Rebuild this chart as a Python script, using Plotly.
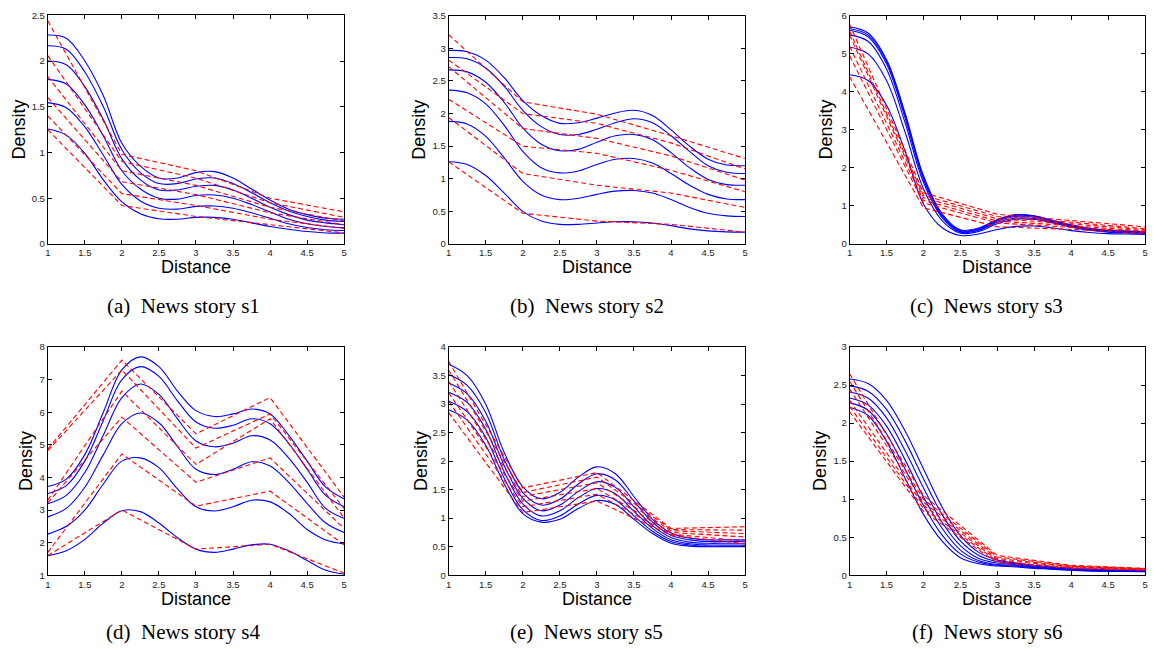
import plotly.graph_objects as go

# ---------------- data ----------------
X_SMOOTH = [1.0, 1.25, 1.5, 1.75, 2.0, 2.25, 2.5, 2.75, 3.0, 3.25, 3.5, 3.75, 4.0, 4.25, 4.5, 4.75, 5.0]
X_KNOTS = [1, 2, 3, 4, 5]

# (a) News story s1
S1_FIT = [
    [2.285, 2.25, 2.00, 1.62, 1.10, 0.85, 0.72, 0.72, 0.78, 0.79, 0.72, 0.60, 0.48, 0.38, 0.32, 0.28, 0.27],
    [2.167, 2.13, 1.88, 1.50, 1.03, 0.78, 0.66, 0.66, 0.71, 0.72, 0.66, 0.56, 0.45, 0.36, 0.30, 0.26, 0.245],
    [2.00, 1.96, 1.72, 1.36, 0.93, 0.70, 0.59, 0.59, 0.63, 0.64, 0.59, 0.50, 0.40, 0.32, 0.26, 0.23, 0.21],
    [1.80, 1.75, 1.52, 1.18, 0.80, 0.60, 0.50, 0.49, 0.53, 0.535, 0.50, 0.43, 0.35, 0.27, 0.22, 0.19, 0.175],
    [1.545, 1.49, 1.28, 0.97, 0.65, 0.47, 0.39, 0.38, 0.41, 0.415, 0.39, 0.34, 0.28, 0.22, 0.18, 0.155, 0.147],
    [1.257, 1.19, 0.99, 0.70, 0.46, 0.33, 0.275, 0.27, 0.29, 0.29, 0.27, 0.23, 0.19, 0.16, 0.135, 0.12, 0.118],
]
S1_EMP = [
    [2.44, 0.98, 0.80, 0.50, 0.35],
    [2.06, 0.90, 0.72, 0.45, 0.29],
    [1.83, 0.80, 0.64, 0.40, 0.25],
    [1.60, 0.68, 0.54, 0.34, 0.21],
    [1.40, 0.55, 0.42, 0.27, 0.17],
    [1.25, 0.42, 0.30, 0.21, 0.12],
]

# (b) News story s2
S2_FIT = [
    [2.97, 2.95, 2.82, 2.55, 2.20, 1.97, 1.85, 1.86, 1.93, 2.01, 2.05, 1.97, 1.75, 1.50, 1.30, 1.21, 1.20],
    [2.86, 2.84, 2.70, 2.42, 2.05, 1.80, 1.68, 1.68, 1.76, 1.86, 1.92, 1.86, 1.66, 1.42, 1.20, 1.10, 1.08],
    [2.67, 2.64, 2.48, 2.17, 1.78, 1.53, 1.43, 1.45, 1.56, 1.66, 1.68, 1.60, 1.40, 1.17, 0.99, 0.91, 0.90],
    [2.36, 2.32, 2.15, 1.82, 1.42, 1.17, 1.09, 1.12, 1.22, 1.30, 1.31, 1.24, 1.08, 0.90, 0.76, 0.69, 0.68],
    [1.88, 1.84, 1.65, 1.32, 0.96, 0.75, 0.68, 0.70, 0.76, 0.81, 0.82, 0.78, 0.68, 0.56, 0.47, 0.43, 0.42],
    [1.26, 1.22, 1.05, 0.78, 0.50, 0.35, 0.30, 0.30, 0.32, 0.34, 0.34, 0.32, 0.28, 0.23, 0.20, 0.185, 0.18],
]
S2_EMP = [
    [3.21, 2.18, 1.99, 1.66, 1.31],
    [2.82, 2.00, 1.85, 1.55, 1.15],
    [2.72, 1.77, 1.62, 1.35, 0.98],
    [2.22, 1.50, 1.39, 1.13, 0.80],
    [1.94, 1.08, 0.90, 0.78, 0.56],
    [1.26, 0.47, 0.35, 0.30, 0.18],
]

# (c) News story s3
S3_FIT = [
    [5.71, 5.55, 4.85, 3.45, 1.80, 0.80, 0.37, 0.42, 0.64, 0.77, 0.74, 0.62, 0.50, 0.41, 0.36, 0.34, 0.33],
    [5.66, 5.50, 4.80, 3.40, 1.75, 0.77, 0.35, 0.40, 0.62, 0.75, 0.73, 0.61, 0.49, 0.40, 0.35, 0.33, 0.32],
    [5.62, 5.45, 4.74, 3.33, 1.70, 0.74, 0.33, 0.38, 0.60, 0.72, 0.70, 0.59, 0.47, 0.39, 0.34, 0.32, 0.31],
    [5.50, 5.33, 4.60, 3.20, 1.62, 0.70, 0.31, 0.36, 0.57, 0.68, 0.67, 0.57, 0.45, 0.37, 0.32, 0.30, 0.29],
    [5.18, 5.00, 4.30, 2.95, 1.45, 0.62, 0.28, 0.33, 0.53, 0.65, 0.64, 0.55, 0.44, 0.36, 0.31, 0.29, 0.28],
    [4.45, 4.30, 3.65, 2.45, 1.05, 0.43, 0.22, 0.26, 0.38, 0.46, 0.47, 0.42, 0.35, 0.30, 0.27, 0.26, 0.25],
]
S3_EMP = [
    [5.78, 1.35, 0.78, 0.62, 0.45],
    [5.60, 1.28, 0.72, 0.57, 0.40],
    [5.50, 1.22, 0.66, 0.53, 0.37],
    [5.20, 1.15, 0.60, 0.48, 0.34],
    [4.95, 1.08, 0.55, 0.44, 0.32],
    [4.40, 0.95, 0.45, 0.38, 0.28],
]

# (d) News story s4
S4_FIT = [
    [3.72, 3.95, 4.70, 6.00, 7.30, 7.70, 7.40, 6.65, 6.05, 5.87, 5.95, 6.10, 5.95, 5.30, 4.50, 3.70, 3.34],
    [3.51, 3.75, 4.50, 5.75, 7.00, 7.40, 7.10, 6.35, 5.70, 5.51, 5.60, 5.80, 5.65, 5.05, 4.25, 3.45, 3.10],
    [3.19, 3.45, 4.15, 5.30, 6.45, 6.87, 6.55, 5.80, 5.12, 4.94, 5.05, 5.28, 5.15, 4.60, 3.85, 3.05, 2.74],
    [2.79, 3.05, 3.70, 4.70, 5.65, 5.98, 5.68, 4.95, 4.25, 4.09, 4.25, 4.48, 4.35, 3.85, 3.20, 2.60, 2.31],
    [2.26, 2.50, 3.00, 3.80, 4.50, 4.60, 4.30, 3.65, 3.10, 2.97, 3.10, 3.30, 3.25, 2.90, 2.40, 2.08, 1.96],
    [1.60, 1.75, 2.10, 2.60, 2.98, 2.95, 2.60, 2.15, 1.80, 1.70, 1.80, 1.93, 1.95, 1.75, 1.45, 1.15, 1.03],
]
S4_EMP = [
    [4.87, 7.60, 5.34, 6.45, 3.39],
    [4.82, 7.30, 4.90, 5.95, 3.04],
    [3.30, 6.65, 4.40, 5.80, 2.75],
    [3.22, 5.85, 3.85, 4.60, 2.43],
    [1.70, 4.72, 3.12, 3.58, 1.93],
    [1.60, 3.00, 1.80, 1.95, 1.06],
]

# (e) News story s5
S5_FIT = [
    [3.70, 3.50, 3.00, 2.15, 1.55, 1.34, 1.45, 1.72, 1.90, 1.78, 1.38, 0.98, 0.74, 0.65, 0.62, 0.62, 0.62],
    [3.52, 3.33, 2.85, 2.03, 1.45, 1.23, 1.33, 1.60, 1.78, 1.67, 1.30, 0.93, 0.70, 0.62, 0.59, 0.59, 0.59],
    [3.37, 3.18, 2.70, 1.92, 1.35, 1.13, 1.23, 1.47, 1.64, 1.54, 1.20, 0.87, 0.66, 0.58, 0.56, 0.56, 0.56],
    [3.21, 3.03, 2.56, 1.81, 1.25, 1.04, 1.13, 1.36, 1.52, 1.43, 1.12, 0.82, 0.62, 0.55, 0.53, 0.53, 0.53],
    [3.05, 2.87, 2.42, 1.70, 1.15, 0.96, 1.04, 1.25, 1.40, 1.32, 1.04, 0.77, 0.59, 0.53, 0.51, 0.51, 0.51],
    [2.90, 2.72, 2.28, 1.60, 1.08, 0.93, 0.98, 1.17, 1.31, 1.24, 0.98, 0.73, 0.56, 0.51, 0.50, 0.50, 0.50],
]
S5_EMP = [
    [3.75, 1.53, 1.80, 0.82, 0.85],
    [3.60, 1.45, 1.72, 0.80, 0.79],
    [3.40, 1.38, 1.62, 0.78, 0.73],
    [3.20, 1.30, 1.52, 0.75, 0.67],
    [3.05, 1.20, 1.42, 0.72, 0.60],
    [2.85, 1.10, 1.30, 0.70, 0.55],
]

# (f) News story s6
S6_FIT = [
    [2.58, 2.52, 2.30, 1.90, 1.40, 0.90, 0.52, 0.30, 0.20, 0.16, 0.13, 0.11, 0.09, 0.08, 0.07, 0.065, 0.06],
    [2.49, 2.42, 2.18, 1.77, 1.27, 0.80, 0.45, 0.26, 0.18, 0.15, 0.12, 0.10, 0.08, 0.07, 0.065, 0.06, 0.055],
    [2.41, 2.33, 2.07, 1.64, 1.15, 0.70, 0.39, 0.22, 0.16, 0.14, 0.11, 0.09, 0.075, 0.065, 0.06, 0.055, 0.05],
    [2.33, 2.24, 1.96, 1.52, 1.03, 0.62, 0.33, 0.19, 0.14, 0.13, 0.10, 0.085, 0.07, 0.06, 0.055, 0.05, 0.05],
    [2.27, 2.17, 1.86, 1.40, 0.92, 0.53, 0.28, 0.17, 0.13, 0.12, 0.10, 0.08, 0.07, 0.06, 0.055, 0.05, 0.05],
    [2.21, 2.10, 1.76, 1.28, 0.80, 0.45, 0.23, 0.15, 0.12, 0.11, 0.09, 0.08, 0.065, 0.055, 0.05, 0.05, 0.045],
]
S6_EMP = [
    [2.65, 1.05, 0.26, 0.13, 0.09],
    [2.55, 1.00, 0.24, 0.12, 0.085],
    [2.45, 0.96, 0.22, 0.115, 0.08],
    [2.30, 0.92, 0.20, 0.11, 0.075],
    [2.22, 0.88, 0.18, 0.10, 0.07],
    [2.15, 0.84, 0.16, 0.09, 0.065],
]

CAPTIONS = ["(a) News story s1", "(b) News story s2", "(c) News story s3",
            "(d) News story s4", "(e) News story s5", "(f) News story s6"]
Y_RANGES = [[0, 2.5], [0, 3.5], [0, 6], [1, 8], [0, 4], [0, 3]]
Y_DTICKS = [0.5, 0.5, 1, 1, 0.5, 0.5]
X_TITLE = "Distance"
Y_TITLE = "Density"

FITS = [S1_FIT, S2_FIT, S3_FIT, S4_FIT, S5_FIT, S6_FIT]
EMPS = [S1_EMP, S2_EMP, S3_EMP, S4_EMP, S5_EMP, S6_EMP]

# ---------------- layout (pixel boxes) ----------------
W, H = 1154, 649
BOXES = [  # left, right, top, bottom in px
    (45, 343, 9.5, 242), (448, 746, 10, 242), (851, 1148, 10, 242),
    (45, 343, 347, 579), (448, 746, 347, 579), (851, 1148, 347, 579),
]
YLAB_X = [16, 418, 827, 23, 420, 821]
XLAB_Y = [266, 266, 266, 603, 603, 603]
CAP_X = [181, 587, 989, 181, 587, 989]
CAP_Y = [305, 305, 305, 637, 637, 637]

fig = go.Figure()
axis_font = dict(family="Liberation Sans, Arial, sans-serif", size=9.5, color="#222222")

for i in range(6):
    xa = "x" if i == 0 else f"x{i+1}"
    ya = "y" if i == 0 else f"y{i+1}"
    for curve in FITS[i]:
        fig.add_trace(go.Scatter(x=X_SMOOTH, y=curve, mode="lines", xaxis=xa, yaxis=ya,
                                 line=dict(color="#0000FF", width=1.1, shape="spline", smoothing=1.0),
                                 showlegend=False, hoverinfo="skip"))
    for curve in EMPS[i]:
        fig.add_trace(go.Scatter(x=X_KNOTS, y=curve, mode="lines", xaxis=xa, yaxis=ya,
                                 line=dict(color="#FF0000", width=1.1, dash="5px,3px"),
                                 showlegend=False, hoverinfo="skip"))

    l, r, t, b = BOXES[i]
    common = dict(showline=True, linecolor="black", linewidth=1, mirror="ticks",
                  ticks="inside", ticklen=4, tickwidth=1, tickcolor="black",
                  showgrid=False, zeroline=False, tickfont=axis_font, fixedrange=True,
                  ticklabeloverflow="allow")
    fig.layout[f"xaxis{'' if i == 0 else i+1}"] = dict(
        domain=[l / W, r / W], anchor=ya, range=[1, 5], dtick=0.5, tick0=1, **common)
    fig.layout[f"yaxis{'' if i == 0 else i+1}"] = dict(
        domain=[1 - b / H, 1 - t / H], anchor=xa, range=Y_RANGES[i],
        dtick=Y_DTICKS[i], tick0=Y_RANGES[i][0], **common)

    fig.add_annotation(x=(l + r) / 2 / W, y=1 - XLAB_Y[i] / H, xref="paper", yref="paper",
                       text=X_TITLE, showarrow=False, xanchor="center", yanchor="middle",
                       font=dict(family="Liberation Sans, Arial, sans-serif", size=18, color="black"))
    fig.add_annotation(x=YLAB_X[i] / W, y=1 - (t + b) / 2 / H, xref="paper", yref="paper",
                       text=Y_TITLE, showarrow=False, textangle=-90, xanchor="center", yanchor="middle",
                       font=dict(family="Liberation Sans, Arial, sans-serif", size=18, color="black"))
    cap = CAPTIONS[i].replace(") ", ")\u00a0\u00a0", 1)
    fig.add_annotation(x=CAP_X[i] / W, y=1 - CAP_Y[i] / H, xref="paper", yref="paper",
                       text=cap, showarrow=False, xanchor="center", yanchor="middle",
                       font=dict(family="Liberation Serif, Times New Roman, serif", size=21, color="black"))

fig.update_layout(width=W, height=H, margin=dict(l=0, r=0, t=0, b=0),
                  paper_bgcolor="white", plot_bgcolor="white", showlegend=False)

# remove the browser's default 8px page margin so the figure sits at the window origin
fig.write_html("out.html", config={"displayModeBar": False, "staticPlot": True},
               post_script="document.body.style.margin='0px';document.body.style.overflow='hidden';")
